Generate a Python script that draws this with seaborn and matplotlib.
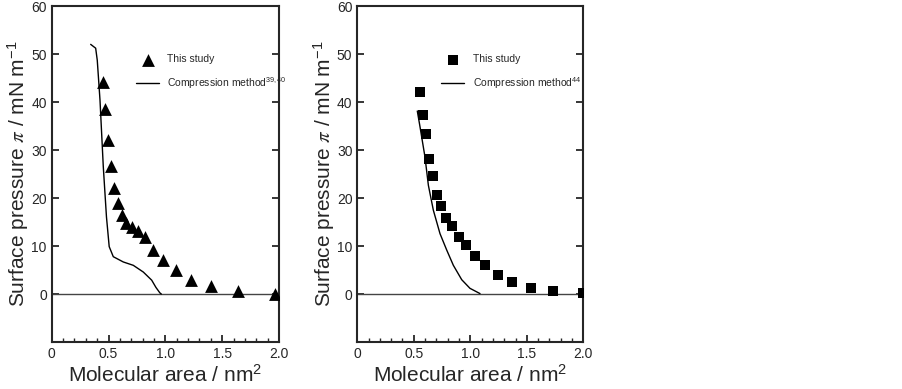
import numpy as np
import pandas as pd
import matplotlib
matplotlib.use("Agg")
import matplotlib.pyplot as plt
from matplotlib.ticker import MultipleLocator
import seaborn as sns

# left panel: this study (triangles) and compression method curve
area_a = [0.449, 0.472, 0.495, 0.519, 0.548, 0.583, 0.618, 0.653, 0.703, 0.756,
          0.821, 0.891, 0.979, 1.09, 1.225, 1.398, 1.636, 1.961]
pi_a = [44.3, 38.7, 32.1, 26.8, 22.2, 19.1, 16.5, 14.9, 14.0, 13.2,
        11.9, 9.2, 7.2, 5.0, 3.0, 1.6, 0.7, 0.1]
comp_area_a = [0.343, 0.387, 0.401, 0.425, 0.454, 0.482, 0.506, 0.542, 0.63,
               0.718, 0.806, 0.88, 0.917, 0.952, 0.965]
comp_pi_a = [52.1, 51.3, 48.8, 40.5, 26.6, 16.1, 9.9, 7.8, 6.7,
             6.0, 4.6, 2.9, 1.4, 0.25, 0.0]

# right panel: this study (squares) and compression method curve
area_b = [0.555, 0.584, 0.608, 0.635, 0.673, 0.705, 0.741, 0.785, 0.838, 0.9,
          0.959, 1.042, 1.127, 1.242, 1.366, 1.534, 1.735, 2.0]
pi_b = [42.2, 37.3, 33.3, 28.2, 24.6, 20.7, 18.4, 15.9, 14.1, 12.0,
        10.2, 7.9, 6.0, 3.9, 2.5, 1.3, 0.7, 0.25]
comp_area_b = [0.531, 0.555, 0.599, 0.629, 0.673, 0.732, 0.791, 0.85, 0.924,
               0.997, 1.086]
comp_pi_b = [38.2, 34.9, 28.6, 22.7, 17.5, 12.6, 9.2, 6.0, 3.0, 1.2, 0.1]

sns.set_style("ticks")
plt.rcParams["font.family"] = ["Liberation Sans", "DejaVu Sans"]
plt.rcParams["mathtext.fontset"] = "stix"

fig = plt.figure(figsize=(9.02, 3.89), dpi=100)
ax1 = fig.add_axes([0.0573, 0.1208, 0.252, 0.8625])
ax2 = fig.add_axes([0.3961, 0.1208, 0.2506, 0.8625])

panels = [
    (ax1, area_a, pi_a, comp_area_a, comp_pi_a, "^", 85, "39,40"),
    (ax2, area_b, pi_b, comp_area_b, comp_pi_b, "s", 50, "44"),
]

for ax, x, y, cx, cy, mk, sz, ref in panels:
    ax.axhline(0, color="#444444", lw=1.0, zorder=1)
    sns.lineplot(x=cx, y=cy, ax=ax, color="black", lw=1.0, sort=False,
                 estimator=None, label="Compression method$\\mathregular{^{%s}}$" % ref)
    sns.scatterplot(x=x, y=y, ax=ax, marker=mk, s=sz, color="black",
                    edgecolor="black", linewidth=0, label="This study", zorder=3)

    ax.set_xlim(0, 2.0)
    ax.set_ylim(-10, 60)
    ax.set_xticks([0, 0.5, 1.0, 1.5, 2.0])
    ax.set_xticklabels(["0", "0.5", "1.0", "1.5", "2.0"])
    ax.set_yticks([0, 10, 20, 30, 40, 50, 60])
    ax.xaxis.set_minor_locator(MultipleLocator(0.1))
    ax.tick_params(axis="both", which="major", direction="in", length=5,
                   width=1.3, labelsize=10, right=True, top=False)
    ax.tick_params(axis="x", which="minor", direction="in", length=3,
                   width=1.0, top=False)
    for sp in ax.spines.values():
        sp.set_visible(True)
        sp.set_linewidth(1.5)

    ax.set_xlabel("Molecular area / nm$\\mathregular{^{2}}$", fontsize=15, labelpad=2)
    ax.set_ylabel("Surface pressure $\\pi$ / mN m$\\mathregular{^{-1}}$",
                  fontsize=15, labelpad=0)

    handles, labels = ax.get_legend_handles_labels()
    ax.legend(handles[::-1], labels[::-1], loc="upper left",
              bbox_to_anchor=(0.33, 0.885), frameon=False, fontsize=7.5,
              handlelength=2.2, handletextpad=0.8, labelspacing=1.0)

fig.savefig("out.png", dpi=100)
